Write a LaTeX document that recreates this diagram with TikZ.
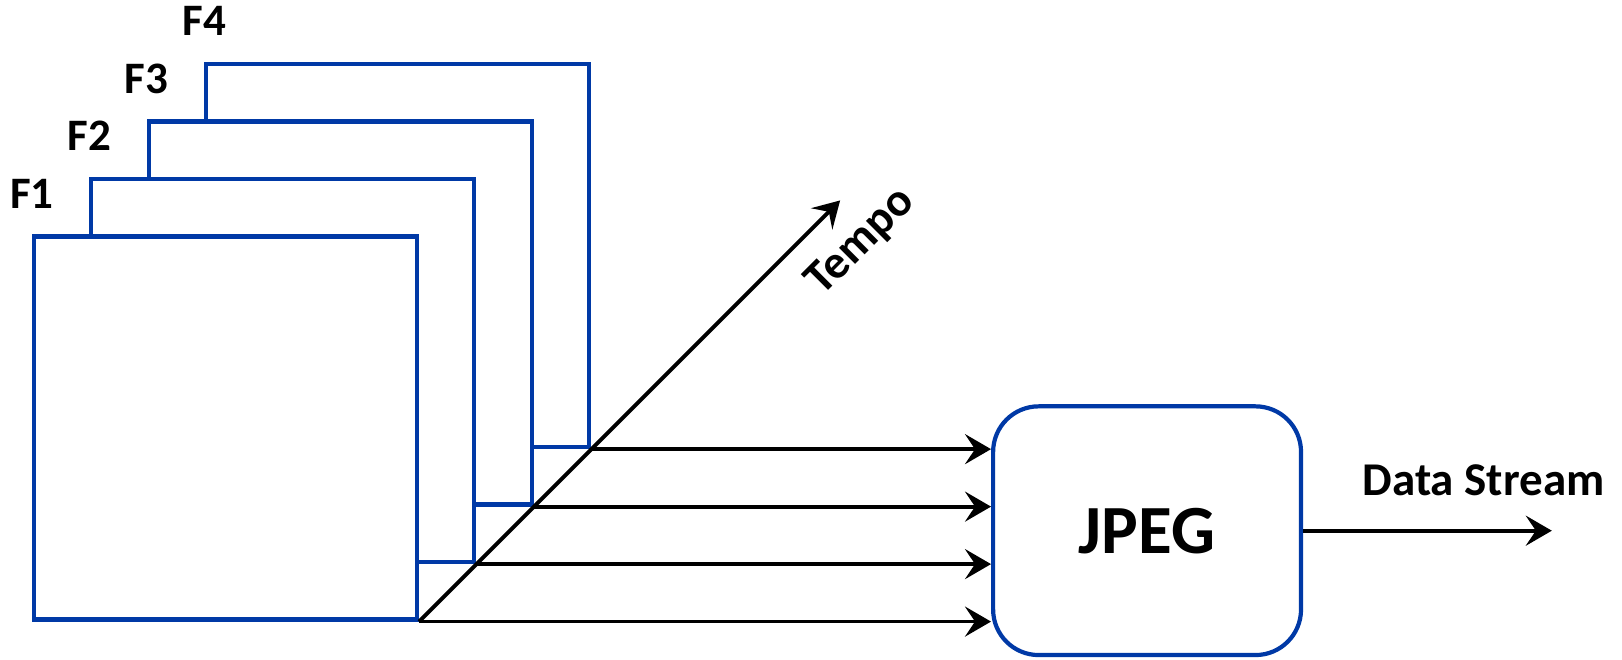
\documentclass[tikz,border=0pt]{standalone}
\usepackage{fontspec}
\setmainfont{Carlito}
\usepackage{xcolor}
\definecolor{frameBlue}{HTML}{0039A6}
\definecolor{lineDark}{HTML}{000000}
\usepackage{tikz}
\usetikzlibrary{arrows.meta,positioning}
\tikzset{
    frame/.style={
        draw=frameBlue,
        fill=white,
        rectangle,
        line width=2.1pt,
        inner sep=0pt,
        minimum size=6.73cm
    },
    codec/.style={
        draw=frameBlue,
        fill=white,
        rectangle,
        rounded corners=0.8cm,
        line width=2.1pt,
        minimum width=5.41cm,
        minimum height=4.37cm,
        align=center,
        font=\fontsize{34.5}{40}\selectfont\bfseries
    },
    flabel/.style={
        font=\fontsize{22.5}{26}\selectfont\bfseries,
        inner sep=0pt
    },
    arrow/.style={
        -{Stealth[length=13pt,width=15pt,inset=5pt]},
        line width=1.9pt,
        color=lineDark
    },
    label/.style={
        font=\fontsize{23.5}{28}\selectfont\bfseries,
        inner sep=0pt
    }
}
\begin{document}
\begin{tikzpicture}
    \useasboundingbox (0,0) rectangle (28.5,11.58);

    % Frames, back to front
    \node[frame] (f4) at (6.99,7.09) {};
    \node[frame] (f3) at ([shift={(-1.01,-1.01)}]f4) {};
    \node[frame] (f2) at ([shift={(-1.01,-1.01)}]f3) {};
    \node[frame] (f1) at ([shift={(-1.01,-1.01)}]f2) {};

    % Frame labels
    \node[flabel, above=0.45cm of f1.north west] {F1};
    \node[flabel, above=0.45cm of f2.north west] {F2};
    \node[flabel, above=0.45cm of f3.north west] {F3};
    \node[flabel, above=0.45cm of f4.north west] {F4};

    % Encoder
    \node[codec] (jpeg) at (20.155,2.255) {JPEG};

    % Time axis
    \coordinate (tempo) at ([shift={(7.4,7.4)}]f1.south east);
    \draw[arrow] (f1.south east) -- (tempo);
    \node[label, rotate=45] at ([shift={(0.37,-0.73)}]tempo) {Tempo};

    % Frames into the encoder
    \draw[arrow] (f1.south east) -- (f1.south east -| jpeg.west);
    \draw[arrow] (f2.south east) -- (f2.south east -| jpeg.west);
    \draw[arrow] (f3.south east) -- (f3.south east -| jpeg.west);
    \draw[arrow] (f4.south east) -- (f4.south east -| jpeg.west);

    % Output
    \coordinate (out) at ([xshift=4.37cm]jpeg.east);
    \draw[arrow] (jpeg.east) -- (out);
    \node[label] at ([shift={(-1.2,0.89)}]out) {Data Stream};
\end{tikzpicture}
\end{document}
